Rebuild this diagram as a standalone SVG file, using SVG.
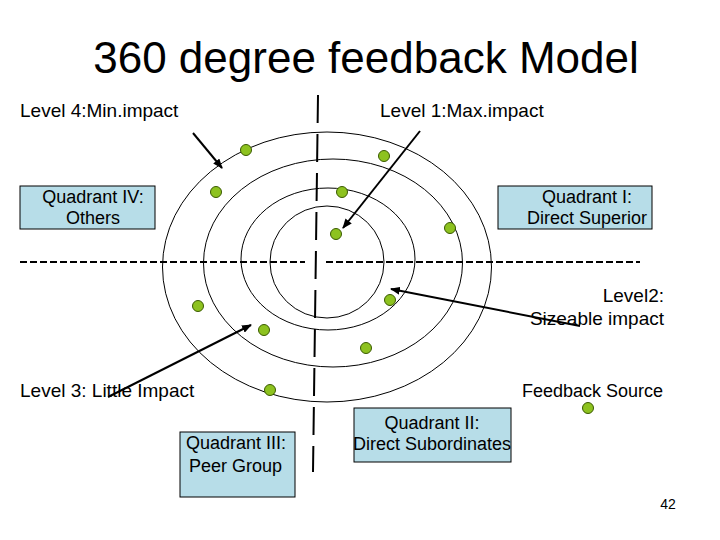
<svg xmlns="http://www.w3.org/2000/svg" width="720" height="540" viewBox="0 0 720 540">
<defs>
<style>
text{font-family:"Liberation Sans",Arial,sans-serif;fill:#000}
.l{font-size:18px}
.v{font-size:19px}
.b{fill:#b7dde8;stroke:#000;stroke-width:1}
.r{fill:none;stroke:#000;stroke-width:1}
.d{fill:#8dc21f;stroke:#3a5a00;stroke-width:1}
.a{stroke:#000;stroke-width:2;marker-end:url(#ah)}
</style>
<marker id="ah" markerWidth="10" markerHeight="8" refX="9" refY="4" orient="auto" markerUnits="userSpaceOnUse"><path d="M0,0L10,4L0,8z" fill="#000"/></marker>
</defs>
<rect width="720" height="540" fill="#fff"/>
<text x="366" y="73" font-size="44" text-anchor="middle">360 degree feedback Model</text>
<g id="rings">
<ellipse class="r" cx="327" cy="267" rx="164.5" ry="135"/>
<ellipse class="r" cx="333" cy="263" rx="129.5" ry="104"/>
<ellipse class="r" cx="328" cy="259" rx="87" ry="71"/>
<ellipse class="r" cx="327" cy="262" rx="57" ry="56"/>
</g>
<g id="axes">
<path d="M318,95L313,472" stroke="#000" stroke-width="2" stroke-dasharray="28 11" fill="none"/>
<path d="M20,262H305M326,262H640" stroke="#000" stroke-width="2" stroke-dasharray="7 3" fill="none"/>
</g>
<g id="dots">
<circle class="d" cx="246" cy="150" r="5.5"/><circle class="d" cx="384" cy="156" r="5.5"/>
<circle class="d" cx="216" cy="192" r="5.5"/><circle class="d" cx="342" cy="192" r="5.5"/>
<circle class="d" cx="450" cy="228" r="5.5"/><circle class="d" cx="336" cy="234" r="5.5"/>
<circle class="d" cx="198" cy="306" r="5.5"/><circle class="d" cx="390" cy="300" r="5.5"/>
<circle class="d" cx="264" cy="330" r="5.5"/><circle class="d" cx="366" cy="348" r="5.5"/>
<circle class="d" cx="270" cy="390" r="5.5"/><circle class="d" cx="588" cy="408" r="5.5"/>
</g>
<g id="connectors">
<line class="a" x1="193" y1="133" x2="222" y2="168"/>
<line class="a" x1="420" y1="131" x2="343" y2="228"/>
<line class="a" x1="108" y1="397" x2="251" y2="325"/>
<line class="a" x1="580" y1="326" x2="391" y2="289"/>
</g>
<g id="labels">
<text class="v" x="20" y="117">Level 4:Min.impact</text>
<text class="v" x="380" y="117">Level 1:Max.impact</text>
<text class="v" x="664" y="302" text-anchor="end">Level2:</text>
<text class="v" x="664" y="325" text-anchor="end">Sizeable impact</text>
<text class="v" x="20" y="397">Level 3: Little Impact</text>
<text class="l" x="522" y="397">Feedback Source</text>
<text x="668" y="509" font-size="14" text-anchor="middle">42</text>
</g>
<g id="q4"><rect class="b" x="20" y="186" width="135" height="43"/><text class="l" x="93" y="203" text-anchor="middle">Quadrant IV:</text><text class="l" x="93" y="224" text-anchor="middle">Others</text></g>
<g id="q1"><rect class="b" x="498" y="186" width="154" height="43"/><text class="l" x="587" y="203" text-anchor="middle">Quadrant I:</text><text class="l" x="587" y="224" text-anchor="middle">Direct Superior</text></g>
<g id="q3"><rect class="b" x="180" y="432" width="115" height="65"/><text class="l" x="186" y="449">Quadrant III:</text><text class="l" x="189" y="472">Peer Group</text></g>
<g id="q2"><rect class="b" x="354" y="408" width="157" height="54"/><text class="l" x="432" y="429" text-anchor="middle">Quadrant II:</text><text class="l" x="432" y="450" text-anchor="middle">Direct Subordinates</text></g>
</svg>
